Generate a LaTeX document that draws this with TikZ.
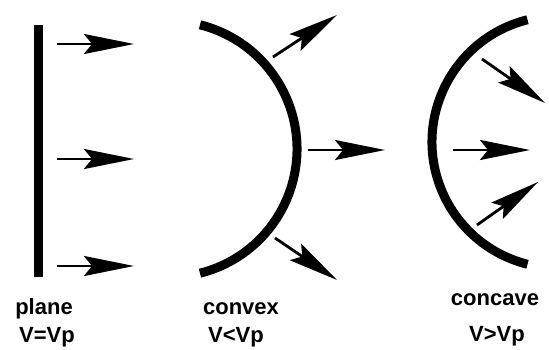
\documentclass[tikz,border=0pt]{standalone}
\usepackage{fontspec}
\setmainfont{Liberation Sans}
\usetikzlibrary{arrows.meta}
\begin{document}
\begin{tikzpicture}[x=1pt,y=1pt,>={Stealth[length=50pt,width=20pt,inset=8pt]},
  front/.style={line width=9pt},ray/.style={->,line width=2.8pt},
  lbl/.style={font=\fontsize{22}{26}\selectfont\bfseries,anchor=base}]
  \useasboundingbox (0,0) rectangle (549,349);
  % plane
  \draw[front] (38,324) -- (38,72);
  \foreach \y in {305,190,83}
    \draw[ray] (57,\y) -- (134,\y);
  % convex
  \draw[front] (169,200) ++(76:128) arc[start angle=76,end angle=-76,radius=128];
  \foreach \xa/\ya/\xb/\yb in {273/292/337/334, 308/199/385/199, 275/111/337/69}
    \draw[ray] (\xa,\ya) -- (\xb,\yb);
  % concave
  \draw[front] (558,207) ++(104:126) arc[start angle=104,end angle=256,radius=126];
  \foreach \xa/\ya/\xb/\yb in {482/290/545/246, 453/199/530/199, 477/124/538/167}
    \draw[ray] (\xa,\ya) -- (\xb,\yb);
  % labels
  \node[lbl] (plane) at (44,35) {plane};
  \node[lbl] (planev) at (47,7) {V=Vp};
  \node[lbl] (convex) at (241,35) {convex};
  \node[lbl] (convexv) at (236,7) {V<Vp};
  \node[lbl] (concave) at (495,44) {concave};
  \node[lbl] (concavev) at (497,8) {V>Vp};
\end{tikzpicture}
\end{document}
